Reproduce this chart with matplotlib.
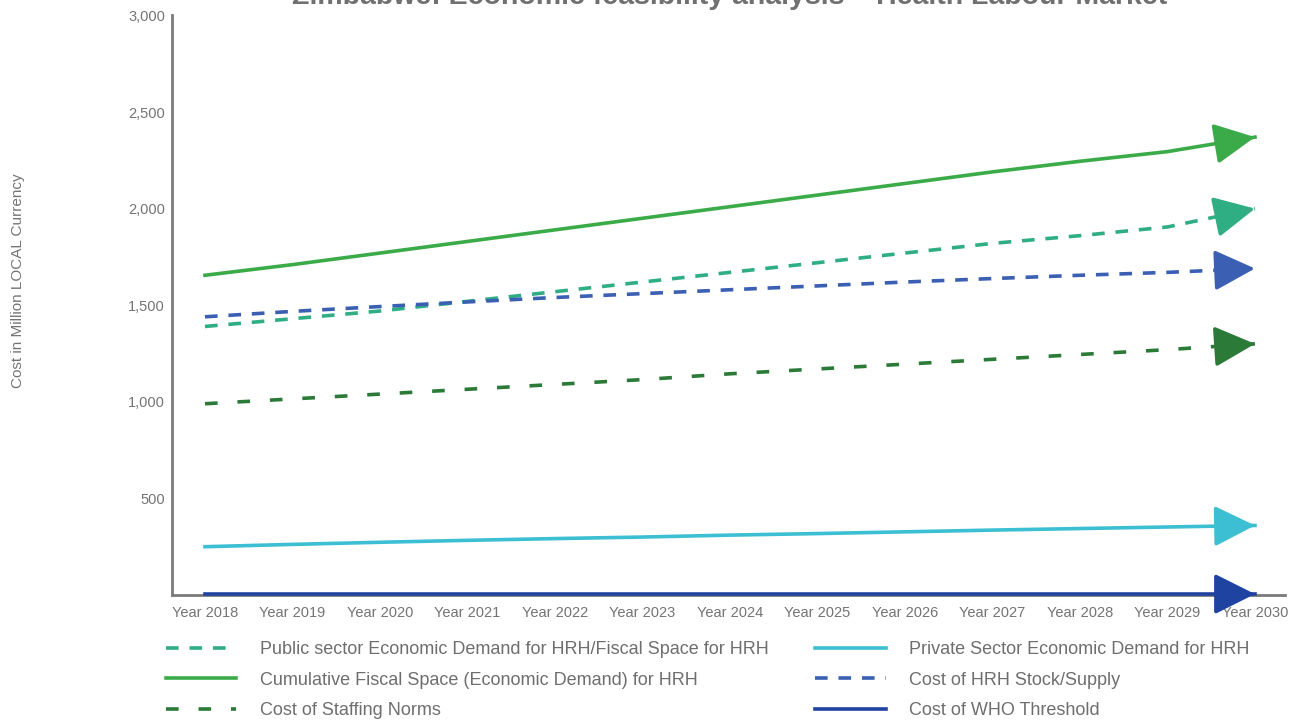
import numpy as np
import matplotlib.pyplot as plt

plt.rcParams['font.family'] = ['Liberation Sans', 'DejaVu Sans']

years = ['Year %d' % y for y in range(2018, 2031)]
x = np.arange(len(years))

public_demand = [1390, 1430, 1470, 1520, 1570, 1620, 1670, 1720, 1770, 1820, 1860, 1905, 2000]
cumulative_space = [1655, 1710, 1770, 1830, 1890, 1950, 2010, 2070, 2130, 2190, 2245, 2295, 2370]
staffing_norms = [990, 1015, 1040, 1065, 1090, 1115, 1145, 1170, 1195, 1220, 1245, 1270, 1300]
private_demand = [250, 262, 273, 283, 292, 300, 310, 318, 327, 336, 344, 352, 360]
hrh_stock = [1440, 1468, 1493, 1517, 1540, 1560, 1580, 1600, 1620, 1638, 1655, 1670, 1690]
who_threshold = [5] * 13

series = [
    ('Public sector Economic Demand for HRH/Fiscal Space for HRH', public_demand, '#2fae84', (0, (3.5, 3))),
    ('Cumulative Fiscal Space (Economic Demand) for HRH', cumulative_space, '#3aab48', '-'),
    ('Cost of Staffing Norms', staffing_norms, '#2b7a38', (0, (3.5, 5.5))),
    ('Private Sector Economic Demand for HRH', private_demand, '#3cbfd2', '-'),
    ('Cost of HRH Stock/Supply', hrh_stock, '#3b5fb3', (0, (3.5, 3))),
    ('Cost of WHO Threshold', who_threshold, '#1e43a0', '-'),
]

fig = plt.figure(figsize=(13.06, 7.2), dpi=100)
ax = fig.add_axes([0.1317, 0.1736, 0.852, 0.805])

for label, vals, color, ls in series:
    ax.plot(x, vals, color=color, lw=2.6, ls=ls, label=label, zorder=4, clip_on=False)
    # arrow head at the end of each line
    ax.annotate('', xy=(x[-1], vals[-1]),
                xytext=(x[-1] - 0.3, vals[-1] - 0.3 * (vals[-1] - vals[-2])),
                arrowprops=dict(arrowstyle='-|>,head_length=0.9,head_width=0.45',
                                mutation_scale=28, color=color, lw=2.6,
                                shrinkA=0, shrinkB=0),
                zorder=5, annotation_clip=False)

ax.set_xlim(-0.377, 12.34)
ax.set_ylim(0, 3000)
ax.set_xticks(x)
ax.set_xticklabels(years)
ax.set_yticks([500, 1000, 1500, 2000, 2500, 3000])
ax.set_yticklabels(['500', '1,000', '1,500', '2,000', '2,500', '3,000'])
ax.tick_params(length=0, colors='#747474', labelsize=10.5, pad=5)
ax.tick_params(axis='x', pad=8)

for s in ['top', 'right']:
    ax.spines[s].set_visible(False)
for s in ['left', 'bottom']:
    ax.spines[s].set_color('#7a7a7a')
    ax.spines[s].set_linewidth(2)

fig.text(0.014, 0.61, 'Cost in Million LOCAL Currency', rotation=90,
         ha='center', va='center', color='#747474', fontsize=11)

fig.text(0.559, 1.004, 'Zimbabwe: Economic feasibility analysis \u2013 Health Labour Market',
         ha='center', va='center', color='#707070', fontsize=20.5, fontweight='bold')

ax.legend(loc='upper left', bbox_to_anchor=(-0.012, -0.067), ncol=2, frameon=False,
          fontsize=13, handlelength=3.9, handletextpad=1.3, columnspacing=2.6,
          labelspacing=0.75, labelcolor='#6e6e6e', borderaxespad=0)

fig.savefig('out.png', dpi=100)
